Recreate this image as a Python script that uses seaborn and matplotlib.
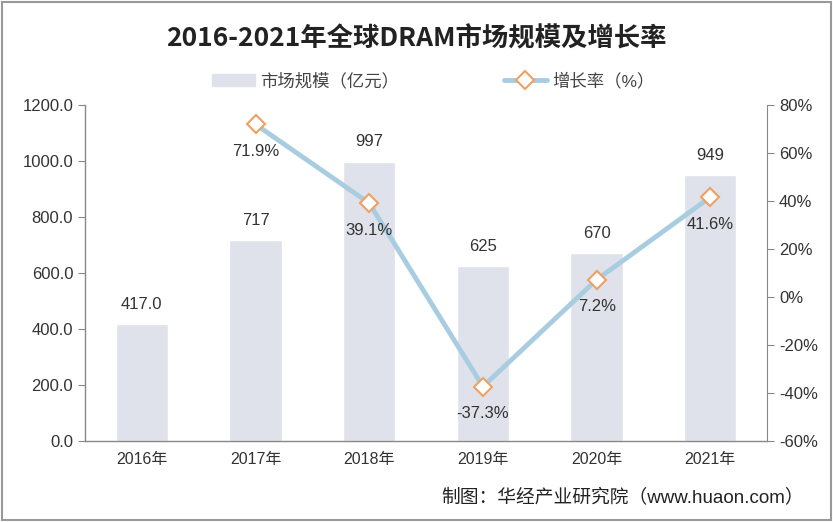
import numpy as np
import pandas as pd
import seaborn as sns
import matplotlib.pyplot as plt
from matplotlib.patches import Rectangle
from matplotlib.lines import Line2D

# data
years = ['2016年', '2017年', '2018年', '2019年', '2020年', '2021年']
market_size = [417, 717, 997, 625, 670, 949]
size_labels = ['417.0', '717', '997', '625', '670', '949']
growth = [np.nan, 71.9, 39.1, -37.3, 7.2, 41.6]

left_ticks = [0, 200, 400, 600, 800, 1000, 1200]
right_ticks = [-60, -40, -20, 0, 20, 40, 60, 80]

bar_color = '#DFE2EB'
line_color = '#A9CDE0'
marker_edge = '#F0A060'
text_color = '#333333'

sns.set_style("white")
plt.rcParams['font.family'] = ['Liberation Sans', 'Noto Sans CJK SC']
plt.rcParams['axes.unicode_minus'] = False

df = pd.DataFrame({'year': years, 'size': market_size, 'growth': growth})
df['pos'] = np.arange(len(df))

fig = plt.figure(figsize=(8.33, 5.22), dpi=100)
ax = fig.add_axes([0.102, 0.155, 0.819, 0.644])

sns.barplot(data=df, x='year', y='size', color=bar_color, width=0.46,
            saturation=1, ax=ax)
ax.set_xlim(-0.5, len(years) - 0.5)
ax.set_ylim(0, 1200)
ax.set_yticks(left_ticks)
ax.set_yticklabels([f'{v:.1f}' for v in left_ticks])
ax.set_xlabel('')
ax.set_ylabel('')

for i, (v, lab) in enumerate(zip(market_size, size_labels)):
    ax.annotate(lab, (i, v), xytext=(0, 9), textcoords='offset points',
                ha='center', va='bottom', fontsize=12, color=text_color)

# x ticks sit between categories
ax.set_xticks(np.arange(len(years)))
ax.set_xticklabels(years, fontsize=11.5, color=text_color)
ax.tick_params(axis='x', length=0, pad=8)
ax.set_xticks(np.arange(-0.5, len(years)), minor=True)
ax.tick_params(axis='x', which='minor', length=5, direction='out', color='#888888')
ax.tick_params(axis='y', length=5, direction='out', color='#888888',
               labelsize=12, labelcolor=text_color, left=True)

for s in ['top', 'right']:
    ax.spines[s].set_visible(False)
for s in ['left', 'bottom']:
    ax.spines[s].set_color('#888888')
    ax.spines[s].set_linewidth(1)

ax2 = ax.twinx()
dg = df.dropna()
sns.lineplot(data=dg, x='pos', y='growth', ax=ax2, color=line_color, linewidth=3.5,
             marker='D', markersize=9, markerfacecolor='white',
             markeredgecolor=marker_edge, markeredgewidth=1.5)
ax2.set_ylim(-60, 80)
ax2.set_yticks(right_ticks)
ax2.set_yticklabels([f'{v}%' for v in right_ticks])
ax2.set_ylabel('')
ax2.set_xlabel('')
ax2.tick_params(axis='y', length=5, direction='out', color='#888888',
                labelsize=12, labelcolor=text_color, right=True)
for s in ['top', 'left', 'bottom']:
    ax2.spines[s].set_visible(False)
ax2.spines['right'].set_color('#888888')
ax2.set_xlim(-0.5, len(years) - 0.5)

for p, g in zip(dg['pos'], dg['growth']):
    ax2.annotate(f'{g}%', (p, g), xytext=(0, -14), textcoords='offset points',
                 ha='center', va='top', fontsize=12, color=text_color)

fig.text(0.5, 0.925, '2016-2021年全球DRAM市场规模及增长率', ha='center', va='center',
         fontsize=19, fontweight='bold', color='#222222',
         family=['Noto Sans CJK SC', 'DejaVu Sans'])

handles = [Rectangle((0, 0), 1, 1, color=bar_color),
           Line2D([0], [0], color=line_color, linewidth=3.5, marker='D', markersize=9,
                  markerfacecolor='white', markeredgecolor=marker_edge, markeredgewidth=1.5)]
fig.legend(handles, ['市场规模（亿元）', '增长率（%）'], loc='center',
           bbox_to_anchor=(0.52, 0.845), ncol=2, frameon=False, fontsize=12.5,
           handlelength=2.5, handletextpad=0.3, columnspacing=6, labelcolor='#444444')

fig.text(0.965, 0.047, '制图：华经产业研究院（www.huaon.com）', ha='right', va='center',
         fontsize=13.5, color='#222222')

fig.patches.append(Rectangle((0.003, 0.004), 0.994, 0.992, transform=fig.transFigure,
                             fill=False, edgecolor='#999999', linewidth=1.5))

fig.savefig('out.png', dpi=100)
